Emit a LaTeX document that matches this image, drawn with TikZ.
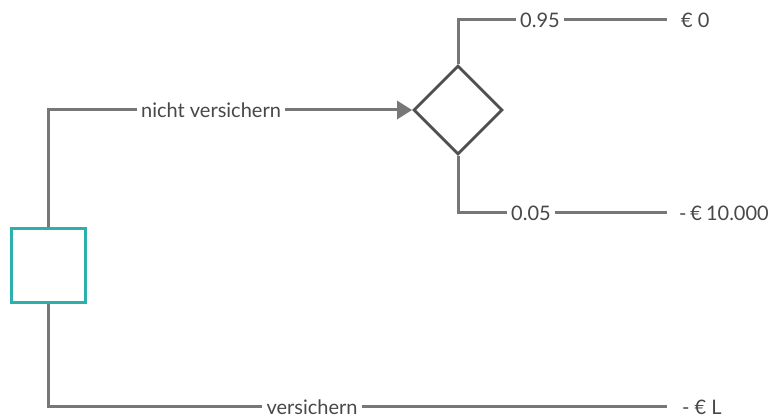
\documentclass[tikz,border=0pt]{standalone}
\usepackage{fontspec}
\setmainfont{Lato}
\usetikzlibrary{arrows.meta,shapes.geometric}
\definecolor{wire}{HTML}{777777}
\definecolor{chance}{HTML}{505050}
\definecolor{ink}{HTML}{484848}
\definecolor{choice}{HTML}{2BB0AC}
\tikzset{
  wirestyle/.style={draw=wire, line width=3pt},
  lbl/.style={fill=white, inner sep=4pt, text=ink, font=\fontsize{20}{24}\selectfont},
  outcome/.style={inner sep=0pt, text=ink, font=\fontsize{20}{24}\selectfont},
  choicebox/.style={draw=choice, line width=3pt, minimum size=74pt, inner sep=0pt},
  chancenode/.style={diamond, aspect=1, draw=chance, line width=2.8pt, minimum size=89pt, inner sep=0pt},
}
\begin{document}
\begin{tikzpicture}[x=1pt, y=-1pt]
\useasboundingbox (0,0) rectangle (772,419);

% decision and chance nodes
\node[choicebox] (s) at (48,266) {};
\node[chancenode] (d) at (458,110) {};

% branch labels
\node[lbl] (l1) at (211,110) {nicht versichern};
\node[lbl] (l2) at (312,407) {versichern};
\node[lbl] (p1) at (540,20) {0.95};
\node[lbl] (p2) at (531,213) {0.05};

% payoffs
\node[outcome, anchor=west] (o1) at (681,20) {€ 0};
\node[outcome, anchor=east] (o2) at (769,213) {-\hspace{0.2em}€\hspace{0.2em}10.000};
\node[outcome, anchor=west] (o3) at (682,407) {- € L};

% ends of the payoff lines
\coordinate (e1) at (667,20);
\coordinate (e2) at (667,213);
\coordinate (e3) at (667,407);

% connectors
\draw[wirestyle] (s.north) |- (l1.west);
\draw[wirestyle, -{Triangle[length=15pt, width=18pt]}] (l1.east) -- (d.west);
\draw[wirestyle] (s.south) |- (l2.west);
\draw[wirestyle] (l2.east) -- (e3);
\draw[wirestyle] (d.north) |- (p1.west);
\draw[wirestyle] (p1.east) -- (e1);
\draw[wirestyle] (d.south) |- (p2.west);
\draw[wirestyle] (p2.east) -- (e2);
\end{tikzpicture}
\end{document}
